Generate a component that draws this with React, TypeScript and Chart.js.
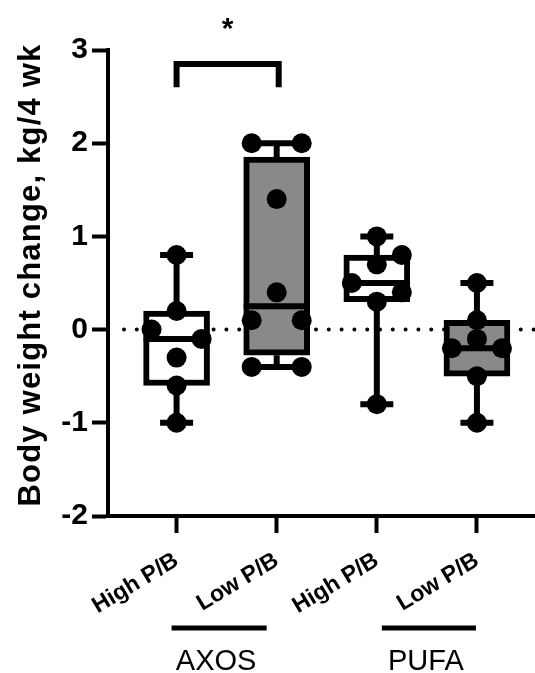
import React, { useEffect, useRef } from "react";
import { Chart, registerables } from "chart.js";

Chart.register(...registerables);

// ---------- data ----------
const categories = ["High P/B", "Low P/B", "High P/B", "Low P/B"];
const groupNames = ["AXOS", "PUFA"];
const groupSpans: number[][] = [
  [0.95, 1.9],
  [3.05, 3.99],
];

const highAxos = [0.8, 0.2, 0.0, -0.1, -0.3, -0.6, -1.0];
const lowAxos = [2.0, 2.0, 1.4, 0.4, 0.1, 0.1, -0.4, -0.4];
const highPufa = [1.0, 0.8, 0.7, 0.5, 0.4, 0.3, -0.8];
const lowPufa = [0.5, 0.1, -0.1, -0.2, -0.2, -0.5, -1.0];

// horizontal spread of the dots (-1 left, 0 centre, 1 right)
const highAxosSpread = [0, 0, -1, 1, 0, 0, 0];
const lowAxosSpread = [-1, 1, 0, 0, -1, 1, -1, 1];
const highPufaSpread = [0, 1, 0, -1, 1, 0, 0];
const lowPufaSpread = [0, 0, 0, -1, 1, 0, 0];

const series = [highAxos, lowAxos, highPufa, lowPufa];
const spreads = [highAxosSpread, lowAxosSpread, highPufaSpread, lowPufaSpread];
const boxFills = ["#ffffff", "#898989", "#ffffff", "#898989"];

const yTicks = [-2, -1, 0, 1, 2, 3];
const yTitle = "Body weight change, kg/4 wk";
const referenceLine = 0;

const bracketFrom = 1;
const bracketTo = 2.02;
const bracketTop = 2.85;
const bracketLeg = 2.6;
const sigLabel = "*";
const sigY = 3.22;

// ---------- helpers ----------
const FONT = "'Liberation Sans', Arial, Helvetica, sans-serif";
const SPREAD = 0.25;

function percentile(sorted: number[], p: number) {
  const n = sorted.length;
  const r = (n + 1) * p;
  const lo = Math.floor(r);
  const frac = r - lo;
  if (lo < 1) return sorted[0];
  if (lo >= n) return sorted[n - 1];
  return sorted[lo - 1] + frac * (sorted[lo] - sorted[lo - 1]);
}

const stats = series.map((vals) => {
  const s = [...vals].sort((a, b) => a - b);
  return {
    min: s[0],
    max: s[s.length - 1],
    q1: percentile(s, 0.25),
    med: percentile(s, 0.5),
    q3: percentile(s, 0.75),
  };
});

const boxPlugin = {
  id: "boxExtras",
  beforeDatasetsDraw(chart: any) {
    const { ctx, chartArea, scales } = chart;
    const x = scales.x;
    const y = scales.y;
    ctx.save();
    // dotted zero line
    const y0 = y.getPixelForValue(referenceLine);
    ctx.strokeStyle = "#000";
    ctx.lineWidth = 4;
    ctx.lineCap = "round";
    ctx.setLineDash([0, 12.8]);
    ctx.beginPath();
    ctx.moveTo(chartArea.left + 16, y0);
    ctx.lineTo(chartArea.right, y0);
    ctx.stroke();
    ctx.setLineDash([]);
    ctx.lineCap = "butt";
    // whiskers and caps
    ctx.lineWidth = 6;
    stats.forEach((s, i) => {
      const cx = x.getPixelForValue(i + 1);
      ctx.beginPath();
      ctx.moveTo(cx, y.getPixelForValue(s.max));
      ctx.lineTo(cx, y.getPixelForValue(s.q3));
      ctx.moveTo(cx, y.getPixelForValue(s.q1));
      ctx.lineTo(cx, y.getPixelForValue(s.min));
      ctx.moveTo(cx - 16.5, y.getPixelForValue(s.max));
      ctx.lineTo(cx + 16.5, y.getPixelForValue(s.max));
      ctx.moveTo(cx - 16.5, y.getPixelForValue(s.min));
      ctx.lineTo(cx + 16.5, y.getPixelForValue(s.min));
      ctx.stroke();
    });
    ctx.restore();
  },
  afterDatasetsDraw(chart: any) {
    const { ctx, scales } = chart;
    const x = scales.x;
    const y = scales.y;
    ctx.save();
    ctx.strokeStyle = "#000";
    ctx.lineWidth = 6;
    stats.forEach((s, i) => {
      const cx = x.getPixelForValue(i + 1);
      const ym = y.getPixelForValue(s.med);
      ctx.beginPath();
      ctx.moveTo(cx - 33, ym);
      ctx.lineTo(cx + 33, ym);
      ctx.stroke();
    });
    ctx.restore();
  },
  afterDraw(chart: any) {
    const { ctx, chartArea, scales } = chart;
    const x = scales.x;
    const y = scales.y;
    ctx.save();
    ctx.strokeStyle = "#000";
    ctx.fillStyle = "#000";
    // significance bracket
    ctx.lineWidth = 6;
    ctx.lineJoin = "miter";
    ctx.beginPath();
    ctx.moveTo(x.getPixelForValue(bracketFrom), y.getPixelForValue(bracketLeg));
    ctx.lineTo(x.getPixelForValue(bracketFrom), y.getPixelForValue(bracketTop));
    ctx.lineTo(x.getPixelForValue(bracketTo), y.getPixelForValue(bracketTop));
    ctx.lineTo(x.getPixelForValue(bracketTo), y.getPixelForValue(bracketLeg));
    ctx.stroke();
    ctx.font = `bold 30px ${FONT}`;
    ctx.textAlign = "center";
    ctx.textBaseline = "middle";
    ctx.fillText(sigLabel, x.getPixelForValue((bracketFrom + bracketTo) / 2), y.getPixelForValue(sigY));
    // group lines and names
    const H = chart.height;
    ctx.lineWidth = 5;
    ctx.font = `29px ${FONT}`;
    ctx.textBaseline = "alphabetic";
    groupSpans.forEach((span, i) => {
      const x1 = x.getPixelForValue(span[0]);
      const x2 = x.getPixelForValue(span[1]);
      ctx.beginPath();
      ctx.moveTo(x1, H - 45);
      ctx.lineTo(x2, H - 45);
      ctx.stroke();
      ctx.fillText(groupNames[i], (x1 + x2) / 2 - 3, H - 3);
    });
    // y axis title
    ctx.font = `bold 31px ${FONT}`;
    (ctx as any).letterSpacing = "1.2px";
    ctx.translate(31, (chartArea.top + chartArea.bottom) / 2 - 8);
    ctx.rotate(-Math.PI / 2);
    ctx.textAlign = "center";
    ctx.textBaseline = "middle";
    ctx.fillText(yTitle, 0, 0);
    ctx.restore();
  },
};

export default function App() {
  const ref = useRef<HTMLCanvasElement | null>(null);

  useEffect(() => {
    if (!ref.current) return;
    const chart = new Chart(ref.current, {
      type: "bar",
      data: {
        datasets: [
          {
            type: "scatter",
            order: 0,
            data: series.flatMap((vals, i) =>
              vals.map((v, j) => ({ x: i + 1 + spreads[i][j] * SPREAD, y: v }))
            ),
            pointRadius: 10,
            pointHoverRadius: 10,
            backgroundColor: "#000",
            borderColor: "#000",
            borderWidth: 0,
          } as any,
          {
            type: "bar",
            order: 1,
            data: stats.map((s, i) => ({ x: i + 1, y: [s.q1, s.q3] })),
            backgroundColor: boxFills,
            borderColor: "#000",
            borderWidth: 6,
            borderSkipped: false,
            barThickness: 66,
            grouped: false,
          } as any,
        ],
      },
      options: {
        responsive: false,
        animation: false,
        layout: { autoPadding: false, padding: { top: 50, right: 0, bottom: 0, left: 0 } },
        plugins: {
          legend: { display: false },
          tooltip: { enabled: false },
        },
        scales: {
          x: {
            type: "linear",
            min: 0.315,
            max: 4.58,
            offset: false,
            afterBuildTicks: (s: any) => {
              s.ticks = categories.map((_, i) => ({ value: i + 1 }));
            },
            afterFit: (s: any) => {
              s.height = 157;
              s.paddingLeft = 0;
              s.paddingRight = 0;
            },
            ticks: {
              autoSkip: false,
              minRotation: 31,
              maxRotation: 31,
              padding: 14,
              color: "#000",
              font: { family: FONT, size: 23, weight: "bold" },
              callback: (v: any) => categories[Math.round(Number(v)) - 1] ?? "",
            },
            grid: {
              offset: false,
              drawOnChartArea: false,
              drawTicks: true,
              tickLength: 17,
              tickWidth: 4,
              tickColor: "#000",
            },
            border: { display: true, width: 4, color: "#000" },
          },
          y: {
            type: "linear",
            min: -2,
            max: 3,
            afterBuildTicks: (s: any) => {
              s.ticks = yTicks.map((v) => ({ value: v }));
            },
            afterFit: (s: any) => {
              s.width = 108;
            },
            ticks: {
              padding: 4,
              color: "#000",
              font: { family: FONT, size: 30, weight: "bold" },
            },
            grid: {
              drawOnChartArea: false,
              drawTicks: true,
              tickLength: 16,
              tickWidth: 4,
              tickColor: "#000",
            },
            border: { display: true, width: 4, color: "#000" },
          },
        },
      } as any,
      plugins: [boxPlugin],
    });
    return () => chart.destroy();
  }, []);

  return (
    <div style={{ position: "absolute", left: 0, top: 0, width: 535, height: 673 }}>
      <canvas ref={ref} width={535} height={673} style={{ display: "block" }} />
    </div>
  );
}
